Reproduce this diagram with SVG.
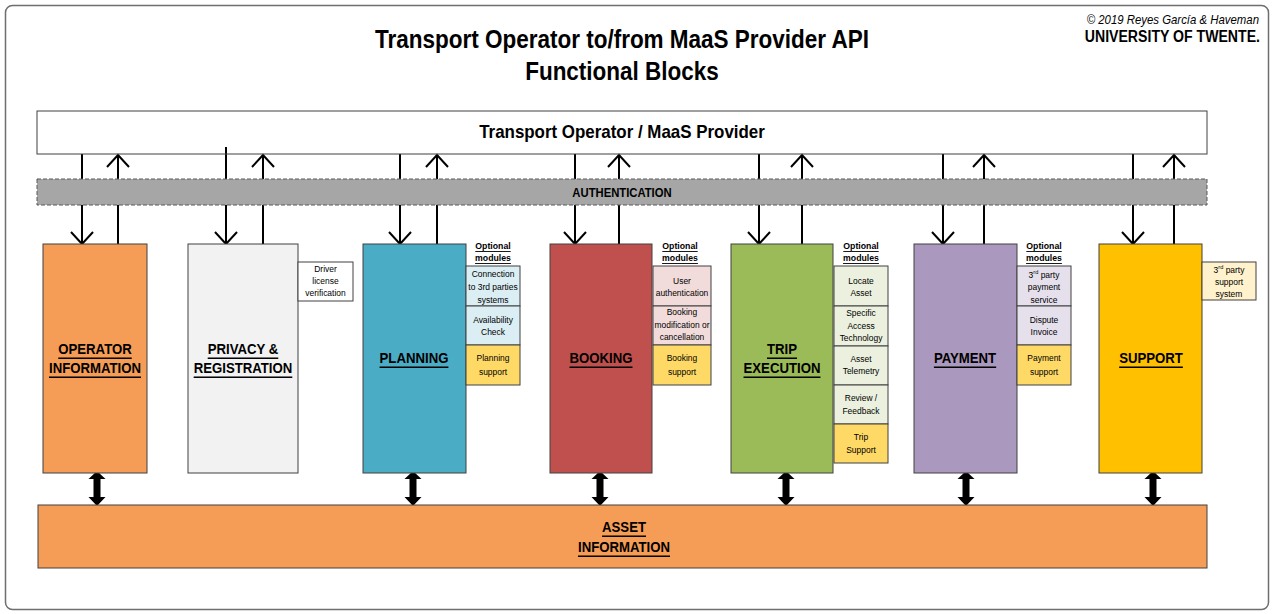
<svg xmlns="http://www.w3.org/2000/svg" width="1274" height="614" viewBox="0 0 1274 614">
<style>
text{font-family:"Liberation Sans Narrow","Liberation Sans",Arial,sans-serif;fill:#000;text-anchor:middle;dominant-baseline:central;transform-box:fill-box;transform-origin:center}
.title{font-size:25px;font-weight:bold;transform:scaleX(.9)}
.prov{font-size:18px;font-weight:bold;transform:scaleX(.94)}
.auth{font-size:12px;font-weight:bold;transform:scaleX(.94)}
.lbl{font-size:15px;font-weight:bold;text-decoration:underline;transform:scaleX(.88)}
.mod{font-size:9px;transform:scaleX(.94)}
.opt{font-size:9px;font-weight:bold;text-decoration:underline;transform:scaleX(.97)}
.cr1{font-size:12px;font-style:italic;text-anchor:end;transform-origin:right center;transform:scaleX(.95)}
.cr2{font-size:17px;font-weight:bold;text-anchor:end;transform-origin:right center;transform:scaleX(.83)}
.box{stroke:#404040;stroke-width:1}
.conn{stroke:#000;stroke-width:2;fill:none}
</style>
<defs>
<marker id="open" markerUnits="userSpaceOnUse" markerWidth="30" markerHeight="30" viewBox="-15 -15 30 30" refX="0" refY="0" orient="auto">
<path d="M-12,-11 L0,0 L-12,11" fill="none" stroke="#000" stroke-width="2"/>
</marker>
</defs>
<rect x="5.5" y="5.5" width="1263" height="604" rx="7" fill="#fff" stroke="#6e6e6e" stroke-width="1.5"/>
<g id="title">
<text class="title" x="622" y="39">Transport Operator to/from MaaS Provider API</text>
<text class="title" x="622" y="71">Functional Blocks</text>
</g>
<g id="credit">
<text class="cr1" x="1259" y="19">© 2019 Reyes García &amp; Haveman</text>
<text class="cr2" x="1260" y="36">UNIVERSITY OF TWENTE.</text>
</g>
<g id="connectors">
<line class="conn" x1="82" y1="154" x2="82" y2="244" marker-end="url(#open)"/>
<line class="conn" x1="118" y1="244" x2="118" y2="155" marker-end="url(#open)"/>
<line class="conn" x1="226" y1="147" x2="226" y2="244" marker-end="url(#open)"/>
<line class="conn" x1="263" y1="244" x2="263" y2="155" marker-end="url(#open)"/>
<line class="conn" x1="400" y1="154" x2="400" y2="244" marker-end="url(#open)"/>
<line class="conn" x1="437" y1="244" x2="437" y2="155" marker-end="url(#open)"/>
<line class="conn" x1="575" y1="154" x2="575" y2="244" marker-end="url(#open)"/>
<line class="conn" x1="619" y1="244" x2="619" y2="155" marker-end="url(#open)"/>
<line class="conn" x1="759" y1="154" x2="759" y2="244" marker-end="url(#open)"/>
<line class="conn" x1="802" y1="244" x2="802" y2="155" marker-end="url(#open)"/>
<line class="conn" x1="943" y1="154" x2="943" y2="244" marker-end="url(#open)"/>
<line class="conn" x1="984" y1="244" x2="984" y2="155" marker-end="url(#open)"/>
<line class="conn" x1="1133" y1="154" x2="1133" y2="244" marker-end="url(#open)"/>
<line class="conn" x1="1174" y1="244" x2="1174" y2="155" marker-end="url(#open)"/>
<g fill="#000">
<polygon points="97,471 105.5,479 100.5,479 100.5,497 105.5,497 97,506 88.5,497 93.5,497 93.5,479 88.5,479"/>
<polygon points="413,471 421.5,479 416.5,479 416.5,497 421.5,497 413,506 404.5,497 409.5,497 409.5,479 404.5,479"/>
<polygon points="600,471 608.5,479 603.5,479 603.5,497 608.5,497 600,506 591.5,497 596.5,497 596.5,479 591.5,479"/>
<polygon points="786,471 794.5,479 789.5,479 789.5,497 794.5,497 786,506 777.5,497 782.5,497 782.5,479 777.5,479"/>
<polygon points="966,471 974.5,479 969.5,479 969.5,497 974.5,497 966,506 957.5,497 962.5,497 962.5,479 957.5,479"/>
<polygon points="1153,471 1161.5,479 1156.5,479 1156.5,497 1161.5,497 1153,506 1144.5,497 1149.5,497 1149.5,479 1144.5,479"/>
</g>
</g>
<g id="provider">
<rect x="37" y="111" width="1170" height="43" fill="#fff" class="box" fill-opacity="0"/>
<text class="prov" x="622" y="132">Transport Operator / MaaS Provider</text>
</g>
<g id="authentication">
<rect x="37" y="179" width="1170" height="26" fill="#a6a6a6" stroke="#595959" stroke-dasharray="4,2"/>
<text class="auth" x="622" y="192">AUTHENTICATION</text>
</g>
<g id="operator">
<rect x="43" y="244" width="104" height="229" fill="#f59d56" class="box"/>
<text class="lbl" x="95" y="349">OPERATOR</text>
<text class="lbl" x="95" y="368">INFORMATION</text>
</g>
<g id="privacy">
<rect x="188" y="244" width="110" height="229" fill="#f2f2f2" class="box"/>
<text class="lbl" x="243" y="349">PRIVACY &amp;</text>
<text class="lbl" x="243" y="368">REGISTRATION</text>
<rect x="298" y="262" width="55" height="39" fill="#fff" class="box"/>
<text class="mod" x="325.5" y="269">Driver</text>
<text class="mod" x="325.5" y="281">license</text>
<text class="mod" x="325.5" y="293">verification</text>
</g>
<g id="planning">
<rect x="363" y="244" width="103" height="229" fill="#4bacc6" class="box"/>
<text class="lbl" x="414" y="358">PLANNING</text>
<text class="opt" x="493" y="246">Optional</text>
<text class="opt" x="493" y="258">modules</text>
<rect x="466" y="266" width="54" height="40" fill="#daeef3" class="box"/>
<rect x="466" y="306" width="54" height="39" fill="#daeef3" class="box"/>
<rect x="466" y="345" width="54" height="40" fill="#ffd966" class="box"/>
<text class="mod" x="493" y="274">Connection</text>
<text class="mod" x="493" y="287">to 3rd parties</text>
<text class="mod" x="493" y="300">systems</text>
<text class="mod" x="493" y="320">Availability</text>
<text class="mod" x="493" y="332">Check</text>
<text class="mod" x="493" y="358">Planning</text>
<text class="mod" x="493" y="372">support</text>
</g>
<g id="booking">
<rect x="550" y="244" width="102" height="229" fill="#c0504d" class="box"/>
<text class="lbl" x="601" y="358">BOOKING</text>
<text class="opt" x="680" y="246">Optional</text>
<text class="opt" x="680" y="258">modules</text>
<rect x="653" y="266" width="58" height="40" fill="#f2dcdb" class="box"/>
<rect x="653" y="306" width="58" height="39" fill="#f2dcdb" class="box"/>
<rect x="653" y="345" width="58" height="40" fill="#ffd966" class="box"/>
<text class="mod" x="682" y="281">User</text>
<text class="mod" x="682" y="293">authentication</text>
<text class="mod" x="682" y="312">Booking</text>
<text class="mod" x="682" y="325">modification or</text>
<text class="mod" x="682" y="337">cancellation</text>
<text class="mod" x="682" y="358">Booking</text>
<text class="mod" x="682" y="372">support</text>
</g>
<g id="trip">
<rect x="731" y="244" width="102" height="229" fill="#9bbb59" class="box"/>
<text class="lbl" x="782" y="349">TRIP</text>
<text class="lbl" x="782" y="368">EXECUTION</text>
<text class="opt" x="861" y="246">Optional</text>
<text class="opt" x="861" y="258">modules</text>
<rect x="834" y="266" width="54" height="40" fill="#ebf1de" class="box"/>
<rect x="834" y="306" width="54" height="40" fill="#ebf1de" class="box"/>
<rect x="834" y="346" width="54" height="39" fill="#ebf1de" class="box"/>
<rect x="834" y="385" width="54" height="39" fill="#ebf1de" class="box"/>
<rect x="834" y="424" width="54" height="39" fill="#ffd966" class="box"/>
<text class="mod" x="861" y="281">Locate</text>
<text class="mod" x="861" y="293">Asset</text>
<text class="mod" x="861" y="313">Specific</text>
<text class="mod" x="861" y="326">Access</text>
<text class="mod" x="861" y="338">Technology</text>
<text class="mod" x="861" y="359">Asset</text>
<text class="mod" x="861" y="371">Telemetry</text>
<text class="mod" x="861" y="398">Review /</text>
<text class="mod" x="861" y="411">Feedback</text>
<text class="mod" x="861" y="437">Trip</text>
<text class="mod" x="861" y="450">Support</text>
</g>
<g id="payment">
<rect x="914" y="244" width="103" height="229" fill="#aa98be" class="box"/>
<text class="lbl" x="965" y="358">PAYMENT</text>
<text class="opt" x="1044" y="246">Optional</text>
<text class="opt" x="1044" y="258">modules</text>
<rect x="1017" y="266" width="54" height="40" fill="#e5e0ec" class="box"/>
<rect x="1017" y="306" width="54" height="39" fill="#e5e0ec" class="box"/>
<rect x="1017" y="345" width="54" height="40" fill="#ffd966" class="box"/>
<text class="mod" x="1044" y="275">3<tspan style="font-size:6px" dy="-3">rd</tspan><tspan dy="3"> party</tspan></text>
<text class="mod" x="1044" y="287">payment</text>
<text class="mod" x="1044" y="300">service</text>
<text class="mod" x="1044" y="320">Dispute</text>
<text class="mod" x="1044" y="332">Invoice</text>
<text class="mod" x="1044" y="358">Payment</text>
<text class="mod" x="1044" y="372">support</text>
</g>
<g id="support">
<rect x="1099" y="244" width="103" height="229" fill="#ffc000" class="box"/>
<text class="lbl" x="1151" y="358">SUPPORT</text>
<rect x="1202" y="262" width="54" height="38" fill="#fff2cc" class="box"/>
<text class="mod" x="1229" y="270">3<tspan style="font-size:6px" dy="-3">rd</tspan><tspan dy="3"> party</tspan></text>
<text class="mod" x="1229" y="282">support</text>
<text class="mod" x="1229" y="294">system</text>
</g>
<g id="asset">
<rect x="38" y="505" width="1169" height="63" fill="#f59d56" class="box"/>
<text class="lbl" x="624" y="527">ASSET</text>
<text class="lbl" x="624" y="547">INFORMATION</text>
</g>
</svg>
